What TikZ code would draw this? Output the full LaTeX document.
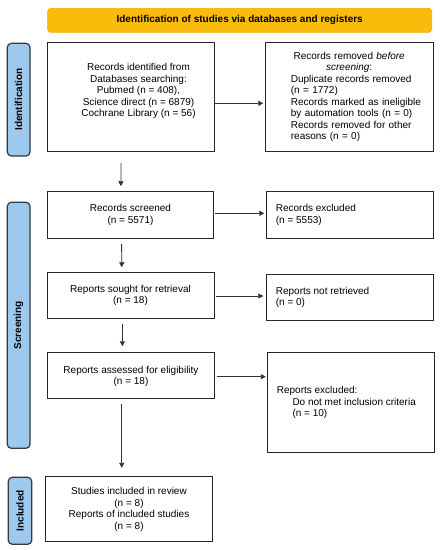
\documentclass[tikz,border=0pt]{standalone}
\usepackage{fontspec}
\setmainfont{Liberation Sans}
\usetikzlibrary{arrows.meta}
\definecolor{hdrfill}{HTML}{F9BC0A}
\definecolor{hdrline}{HTML}{EBAE00}
\definecolor{sidefill}{HTML}{9DC9EE}
\definecolor{sideline}{HTML}{2E3A44}
\definecolor{boxline}{HTML}{262626}
\begin{document}
\begin{tikzpicture}[x=1pt,y=-1pt,
  box/.style={draw=boxline,line width=0.9pt,inner sep=0pt},
  txt/.style={font=\fontsize{10}{11.5}\selectfont,inner sep=0pt,align=center},
  ltxt/.style={font=\fontsize{10}{11.5}\selectfont,inner sep=0pt,align=left,anchor=west},
  sidebox/.style={draw=sideline,fill=sidefill,line width=1.2pt,rounded corners=4pt,inner sep=0pt,rotate=90,font=\bfseries\fontsize{10}{12}\selectfont},
  arr/.style={draw=black!80,line width=0.8pt,-{Triangle[length=5pt,width=5pt]}}]
\useasboundingbox (0,0) rectangle (442,550);
% header
\node[draw=hdrline,fill=hdrfill,line width=0.6pt,rounded corners=3pt,minimum width=384pt,minimum height=24pt,inner sep=0pt,font=\bfseries\fontsize{10}{12}\selectfont] (hdr) at (239.7,20.3) {Identification of studies via databases and registers};
% side labels
\node[sidebox,minimum width=112.7pt,minimum height=22.7pt] (sid) at (18.65,99.65) {Identification};
\node[sidebox,minimum width=246pt,minimum height=22.7pt] (sscr) at (18.65,325.3) {Screening};
\node[sidebox,minimum width=67pt,minimum height=23.4pt] (sinc) at (20,510.8) {Included};
% boxes
\node[box,minimum width=166.7pt,minimum height=109.4pt] (b1) at (130.65,97) {};
\node[box,minimum width=167.6pt,minimum height=109.4pt] (b2) at (349.5,97) {};
\node[box,minimum width=166.4pt,minimum height=46.6pt] (b3) at (130.5,215) {};
\node[box,minimum width=166.6pt,minimum height=46.6pt] (b4) at (350,215) {};
\node[box,minimum width=166.7pt,minimum height=46.4pt] (b5) at (130.65,295.5) {};
\node[box,minimum width=166.6pt,minimum height=46.7pt] (b6) at (350,297.35) {};
\node[box,minimum width=166.7pt,minimum height=46.4pt] (b7) at (130.65,375.5) {};
\node[box,minimum width=167pt,minimum height=99.7pt] (b8) at (350.8,402.2) {};
\node[box,minimum width=167.3pt,minimum height=65pt] (b9) at (128.65,509.2) {};
% texts
\node[txt] (t1) at (138.5,91) {Records identified from\\Databases searching:\\Pubmed (n = 408),\\Science direct (n = 6879)\\Cochrane Library (n = 56)};
\node[ltxt,text width=140pt] (t2) at (290.7,97) {{\centering Records removed \textit{before}\rule{23.4pt}{0pt}\\ \textit{screening}:\rule{23.4pt}{0pt}\par}Duplicate records removed\\(n = 1772)\\Records marked as ineligible\\by automation tools (n = 0)\\Records removed for other\\reasons (n = 0)};
\node[txt] (t3) at (130.5,215) {Records screened\\(n = 5571)};
\node[ltxt] (t4) at (275.7,215) {Records excluded\\(n = 5553)};
\node[txt] (t5) at (130.5,295.3) {Reports sought for retrieval\\(n = 18)};
\node[ltxt] (t6) at (275.7,297.5) {Reports not retrieved\\(n = 0)};
\node[txt] (t7) at (131,376.3) {Reports assessed for eligibility\\(n = 18)};
\node[ltxt] (t8) at (276.7,402.5) {Reports excluded:\\\hspace*{15.6pt}Do not met inclusion criteria\\\hspace*{15.6pt}(n = 10)};
\node[txt] (t9) at (129,509.5) {Studies included in review\\(n = 8)\\Reports of included studies\\(n = 8)};
% horizontal arrows
\draw[arr,shorten >=2pt] ([yshift=-6.3pt]b1.east) -- ([yshift=-6.3pt]b1.east -| b2.west);
\draw[arr,shorten >=2pt,shorten <=1pt] ([yshift=1.7pt]b3.east) -- ([yshift=1.7pt]b3.east -| b4.west);
\draw[arr,shorten >=3pt,shorten <=2pt] ([yshift=-0.5pt]b5.east) -- ([yshift=-0.5pt]b5.east -| b6.west);
\draw[arr,shorten >=1pt,shorten <=2.7pt] ([yshift=-1.2pt]b7.east) -- ([yshift=-1.2pt]b7.east -| b8.west);
% vertical arrows
\draw[arr] ([xshift=-9.6pt,yshift=-11pt]b1.south) -- ([xshift=-9.6pt,yshift=5pt]b3.north);
\draw[arr] ([xshift=-8.9pt,yshift=-5pt]b3.south) -- ([xshift=-8.9pt,yshift=4.6pt]b5.north);
\draw[arr] ([xshift=-8.3pt,yshift=-4.6pt]b5.south) -- ([xshift=-8.3pt,yshift=5.6pt]b7.north);
\draw[arr] ([xshift=-8.9pt,yshift=-4.6pt]b7.south) -- ([xshift=-6.9pt,yshift=8.4pt]b9.north);
\end{tikzpicture}
\end{document}
